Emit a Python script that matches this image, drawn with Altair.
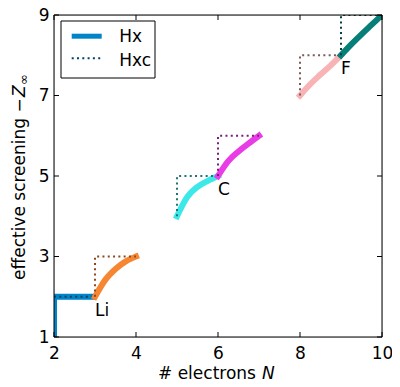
import altair as alt
import pandas as pd

FONT = "DejaVu Sans"

x_ticks = [2, 4, 6, 8, 10]
y_ticks = [1, 3, 5, 7, 9]

seg_colors = ["#0084c8", "#f68632", "#3ce8e8", "#ea3ce6", "#f8b4b4", "#057f77"]
dot_colors = ["#00426a", "#8a4a1c", "#1f7474", "#7a1f78", "#7c5a5a", "#03403c"]

# Hx curves (solid)
hx_n = [
    [2, 2, 3],
    [3, 3.25, 3.5, 3.75, 4],
    [5, 5.25, 5.5, 5.75, 6],
    [6, 6.25, 6.5, 6.75, 7],
    [8, 8.25, 8.5, 8.75, 9],
    [9, 9.25, 9.5, 9.75, 10],
]
hx_v = [
    [1, 2, 2],
    [2, 2.42, 2.69, 2.88, 3.0],
    [4, 4.48, 4.73, 4.88, 5.0],
    [5, 5.37, 5.61, 5.81, 6.0],
    [7, 7.28, 7.52, 7.75, 8.0],
    [8, 8.27, 8.52, 8.76, 9.0],
]

# Hxc steps (dotted)
hxc_n = [[2, 3], [3, 3, 4], [5, 5, 6], [6, 6, 7], [8, 8, 9], [9, 9, 10]]
hxc_v = [[2, 2], [2, 3, 3], [4, 5, 5], [5, 6, 6], [7, 8, 8], [8, 9, 9]]

atom_labels = ["Li", "C", "F"]
label_n = [3, 6, 9]
label_v = [1.64, 4.65, 7.65]

legend_labels = ["Hx", "Hxc"]

W, H = 328, 322
TOP = 7

xs = alt.Scale(domain=[2, 10], nice=False, zero=False)
ys = alt.Scale(domain=[1, 9], nice=False, zero=False)

x_axis = alt.Axis(values=x_ticks, ticks=False, domain=False, grid=False, title=None,
                  labelPadding=8, labelFontSize=17, labelFont=FONT, labelColor="black",
                  labelFlush=False, labelOverlap=False)
y_axis = alt.Axis(values=y_ticks, ticks=False, domain=False, grid=False, title=None,
                  labelPadding=5, labelFontSize=17, labelFont=FONT, labelColor="black",
                  labelFlush=False, labelOverlap=False)


def X():
    return alt.X("n:Q", scale=xs, axis=x_axis)


def Y():
    return alt.Y("v:Q", scale=ys, axis=y_axis)


one = pd.DataFrame({"a": [0]})

layers = []

for i in range(len(hx_n)):
    df = pd.DataFrame({"n": hx_n[i], "v": hx_v[i], "i": list(range(len(hx_n[i])))})
    solid = alt.Chart(df).mark_line(
        color=seg_colors[i], strokeWidth=6, clip=True,
        strokeCap="square" if i > 0 else "butt",
        interpolate="linear" if i == 0 else "monotone",
    ).encode(x=X(), y=Y(), order="i:Q")
    layers.append(solid)
    dfd = pd.DataFrame({"n": hxc_n[i], "v": hxc_v[i], "i": list(range(len(hxc_n[i])))})
    dotted = alt.Chart(dfd).mark_line(
        color=dot_colors[i], strokeWidth=2, strokeDash=[2, 3.3], clip=True,
    ).encode(x=X(), y=Y(), order="i:Q")
    layers.append(dotted)

# atom labels
lab = alt.Chart(pd.DataFrame({"n": label_n, "v": label_v, "t": atom_labels})).mark_text(
    align="left", baseline="middle", fontSize=17, font=FONT, color="black"
).encode(x=X(), y=Y(), text="t:N")
layers.append(lab)

# frame
layers.append(alt.Chart(one).mark_rect(fill=None, fillOpacity=0, stroke="black", strokeWidth=1).encode(
    x=alt.value(0), x2=alt.value(W), y=alt.value(0), y2=alt.value(H)))

# inward ticks on all four sides
tx = pd.DataFrame({"n": x_ticks})
ty = pd.DataFrame({"v": y_ticks})
for y1, y2 in [(H, H - 5), (0, 5)]:
    layers.append(alt.Chart(tx).mark_rule(color="black", strokeWidth=1).encode(
        x=X(), y=alt.value(y1), y2=alt.value(y2)))
for x1, x2 in [(0, 5), (W, W - 5)]:
    layers.append(alt.Chart(ty).mark_rule(color="black", strokeWidth=1).encode(
        y=Y(), x=alt.value(x1), x2=alt.value(x2)))

# legend
layers.append(alt.Chart(one).mark_rect(fill="white", stroke="black", strokeWidth=1).encode(
    x=alt.value(7), x2=alt.value(101), y=alt.value(6), y2=alt.value(63)))
layers.append(alt.Chart(one).mark_rule(color=seg_colors[0], strokeWidth=5).encode(
    x=alt.value(17.7), x2=alt.value(47.7), y=alt.value(21.2)))
layers.append(alt.Chart(one).mark_rule(color=dot_colors[0], strokeWidth=2, strokeDash=[2, 3.3]).encode(
    x=alt.value(17.7), x2=alt.value(47.7), y=alt.value(43.2)))
for lbl, yy in zip(legend_labels, [22.2, 45.5]):
    layers.append(alt.Chart(one).mark_text(align="left", baseline="middle", fontSize=17,
                                           font=FONT, color="black").encode(
        x=alt.value(65.3), y=alt.value(yy), text=alt.value(lbl)))

# x title: "# electrons N"
layers.append(alt.Chart(one).mark_text(align="left", baseline="alphabetic", fontSize=17,
                                       font=FONT, color="black").encode(
    x=alt.value(104), y=alt.value(364), text=alt.value("# electrons ")))
layers.append(alt.Chart(one).mark_text(align="left", baseline="alphabetic", fontSize=17,
                                       font=FONT, fontStyle="italic", color="black").encode(
    x=alt.value(208), y=alt.value(364), text=alt.value("N")))

# y title: "effective screening −Z∞"
layers.append(alt.Chart(one).mark_text(align="left", baseline="alphabetic", fontSize=17,
                                       font=FONT, angle=270, color="black").encode(
    x=alt.value(-29), y=alt.value(265), text=alt.value("effective screening −")))
layers.append(alt.Chart(one).mark_text(align="left", baseline="alphabetic", fontSize=17,
                                       font=FONT, fontStyle="italic", angle=270, color="black").encode(
    x=alt.value(-29), y=alt.value(82), text=alt.value("Z")))
layers.append(alt.Chart(one).mark_text(align="left", baseline="alphabetic", fontSize=13,
                                       font=FONT, angle=270, color="black").encode(
    x=alt.value(-26), y=alt.value(70), text=alt.value("∞")))

chart = alt.layer(*layers).properties(
    width=W, height=H,
    padding={"left": 46, "top": TOP, "right": 10, "bottom": 50},
    autosize=alt.AutoSizeParams(type="none"),
).configure_view(stroke=None).configure(font=FONT)

chart.save("out.html", embed_options={"renderer": "svg", "actions": False})
